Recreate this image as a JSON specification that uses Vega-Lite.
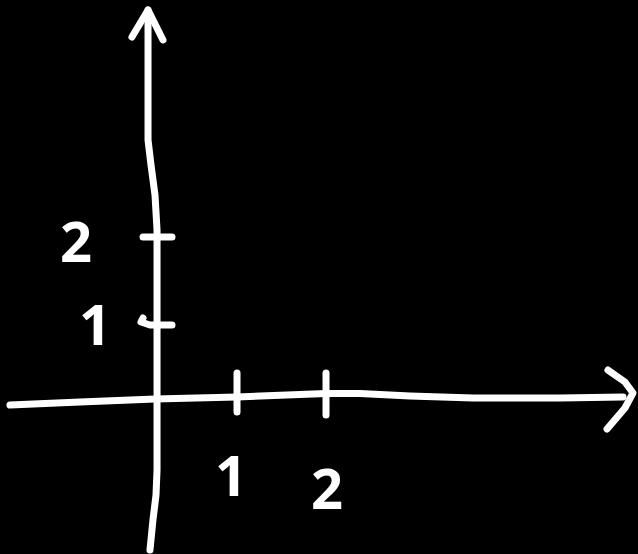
{
  "$schema": "https://vega.github.io/schema/vega-lite/v6.json",
  "width": 638,
  "height": 554,
  "autosize": {"type": "fit", "contains": "padding"},
  "padding": 0,
  "background": "black",
  "config": {"view": {"stroke": null}},
  "datasets": {
    "strokes": [
      {"s": "xaxis", "i": 0, "x": -1.706, "y": -0.071},
      {"s": "xaxis", "i": 1, "x": -0.882, "y": -0.035},
      {"s": "xaxis", "i": 2, "x": 0, "y": 0},
      {"s": "xaxis", "i": 3, "x": 0.965, "y": 0.024},
      {"s": "xaxis", "i": 4, "x": 2.012, "y": 0.065},
      {"s": "xaxis", "i": 5, "x": 2.412, "y": 0.065},
      {"s": "xaxis", "i": 6, "x": 3.0, "y": 0.035},
      {"s": "xaxis", "i": 7, "x": 3.741, "y": 0.012},
      {"s": "xaxis", "i": 8, "x": 4.765, "y": 0.012},
      {"s": "xaxis", "i": 9, "x": 5.506, "y": 0.024},
      {"s": "xarrow", "i": 0, "x": 5.329, "y": 0.341},
      {"s": "xarrow", "i": 1, "x": 5.529, "y": 0.2},
      {"s": "xarrow", "i": 2, "x": 5.624, "y": 0.071},
      {"s": "xarrow", "i": 3, "x": 5.529, "y": -0.106},
      {"s": "xarrow", "i": 4, "x": 5.318, "y": -0.353},
      {"s": "yaxis", "i": 0, "x": -0.059, "y": -1.776},
      {"s": "yaxis", "i": 1, "x": -0.024, "y": -1.424},
      {"s": "yaxis", "i": 2, "x": 0.012, "y": -1.129},
      {"s": "yaxis", "i": 3, "x": 0.024, "y": -0.835},
      {"s": "yaxis", "i": 4, "x": 0.024, "y": 0},
      {"s": "yaxis", "i": 5, "x": 0.024, "y": 1.165},
      {"s": "yaxis", "i": 6, "x": 0.024, "y": 1.988},
      {"s": "yaxis", "i": 7, "x": 0.0, "y": 2.4},
      {"s": "yaxis", "i": 8, "x": -0.047, "y": 2.753},
      {"s": "yaxis", "i": 9, "x": -0.082, "y": 3.047},
      {"s": "yaxis", "i": 10, "x": -0.082, "y": 3.988},
      {"s": "yaxis", "i": 11, "x": -0.082, "y": 4.576},
      {"s": "yarrow", "i": 0, "x": -0.271, "y": 4.259},
      {"s": "yarrow", "i": 1, "x": -0.082, "y": 4.576},
      {"s": "yarrow", "i": 2, "x": 0.094, "y": 4.224},
      {"s": "xtick1", "i": 0, "x": 0.965, "y": 0.306},
      {"s": "xtick1", "i": 1, "x": 0.965, "y": -0.153},
      {"s": "xtick2", "i": 0, "x": 2.012, "y": 0.306},
      {"s": "xtick2", "i": 1, "x": 2.012, "y": -0.188},
      {"s": "ytick2", "i": 0, "x": -0.141, "y": 1.906},
      {"s": "ytick2", "i": 1, "x": 0.2, "y": 1.906},
      {"s": "ytick1", "i": 0, "x": -0.141, "y": 0.953},
      {"s": "ytick1", "i": 1, "x": -0.165, "y": 0.906},
      {"s": "ytick1", "i": 2, "x": -0.059, "y": 0.871},
      {"s": "ytick1", "i": 3, "x": 0.2, "y": 0.871}
    ],
    "labels": [
      {"t": "2", "x": -0.929, "y": 1.847},
      {"t": "1", "x": -0.706, "y": 0.871},
      {"t": "1", "x": 0.894, "y": -0.906},
      {"t": "2", "x": 2.024, "y": -1.059}
    ]
  },
  "layer": [
    {
      "data": {"name": "strokes"},
      "mark": {"type": "line", "color": "white", "strokeWidth": 7, "strokeCap": "round", "strokeJoin": "round"},
      "encoding": {
        "x": {"field": "x", "type": "quantitative", "scale": {"domain": [-1.8235, 5.6824], "nice": false, "zero": false}, "axis": null},
        "y": {"field": "y", "type": "quantitative", "scale": {"domain": [-1.8235, 4.6941], "nice": false, "zero": false}, "axis": null},
        "detail": {"field": "s", "type": "nominal"},
        "order": {"field": "i", "type": "quantitative"}
      }
    },
    {
      "data": {"name": "labels"},
      "mark": {"type": "text", "color": "white", "font": "Open Sans", "fontWeight": 700, "fontSize": 56, "align": "center", "baseline": "middle", "dy": 3},
      "encoding": {
        "x": {"field": "x", "type": "quantitative", "scale": {"domain": [-1.8235, 5.6824], "nice": false, "zero": false}, "axis": null},
        "y": {"field": "y", "type": "quantitative", "scale": {"domain": [-1.8235, 4.6941], "nice": false, "zero": false}, "axis": null},
        "text": {"field": "t", "type": "nominal"}
      }
    }
  ]
}
